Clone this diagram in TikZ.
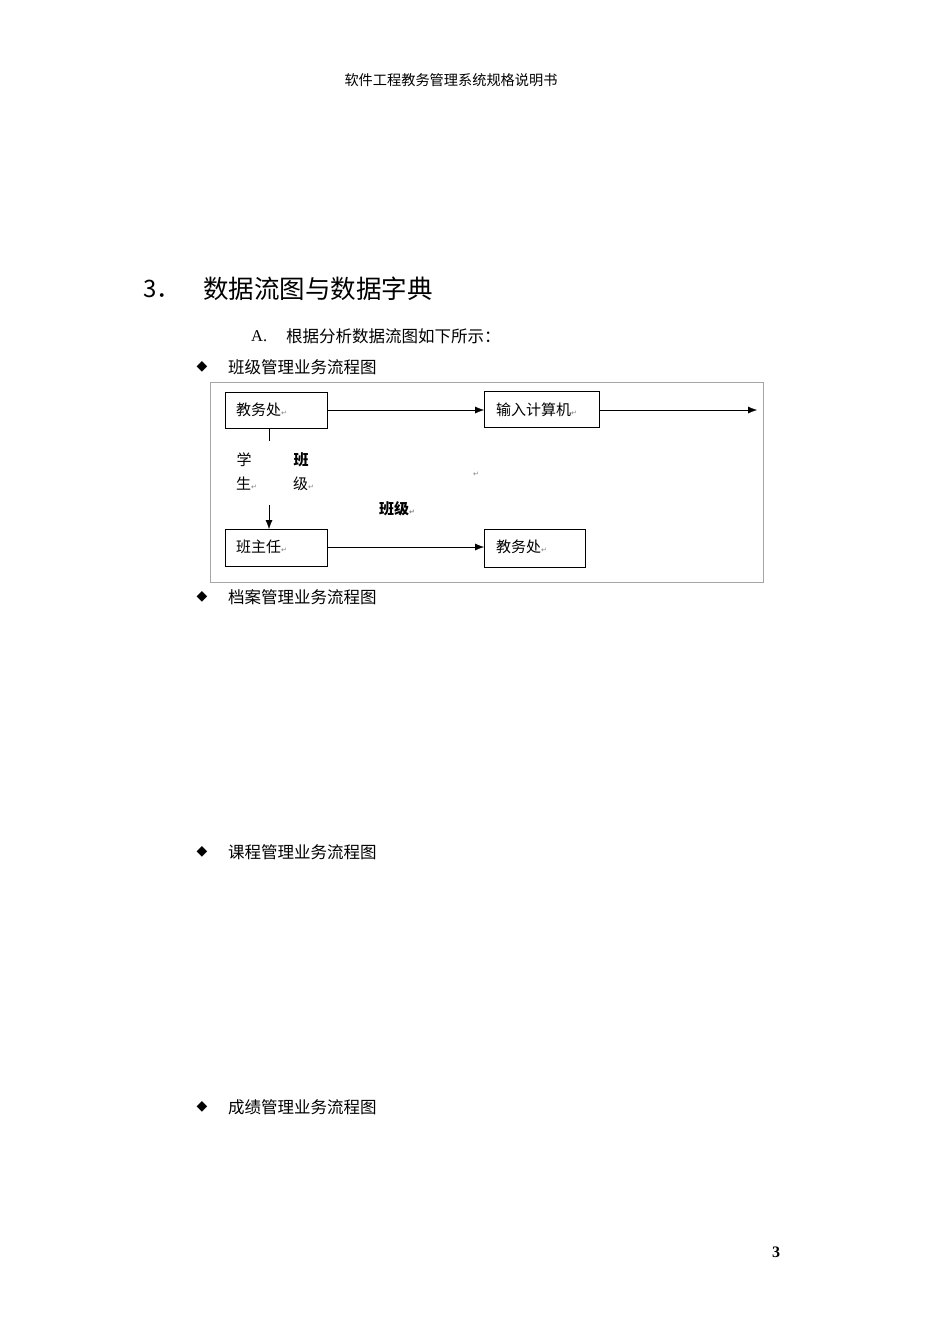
\documentclass[tikz,border=0pt]{standalone}
\usepackage{fontspec}
\usetikzlibrary{arrows.meta}
\newfontfamily\cjk{Noto Sans CJK SC}
\newfontfamily\dv{DejaVu Sans}
\setmainfont{Liberation Serif}
\begin{document}
\begin{tikzpicture}[x=1pt,y=-1pt,
  box/.style={draw,thick,minimum height=36pt,anchor=north west,inner sep=0pt},
  lbl/.style={font=\cjk\fontsize{15}{15}\selectfont,inner sep=0pt},
  bul/.style={font=\dv\fontsize{14}{14}\selectfont,inner sep=0pt},
  txt/.style={font=\cjk\fontsize{15}{15}\selectfont,inner sep=0pt,anchor=west},
  body/.style={font=\cjk\fontsize{16.5}{16.5}\selectfont,inner sep=0pt,anchor=west},
  arr/.style={-{Latex[length=9pt,width=7pt]},thin}]
\useasboundingbox (0,0) rectangle (950,1344);
\newcommand\rt{{\dv\fontsize{7}{7}\selectfont\color{gray}↵}}
\node[lbl,font=\cjk\fontsize{14.2}{14.2}\selectfont] (hdr) at (451,80) {软件工程教务管理系统规格说明书};
\node[body,font=\cjk\fontsize{24}{24}\selectfont] (num) at (143,289) {3．};
\node[body,font=\cjk\fontsize{25.5}{25.5}\selectfont] (ttl) at (203,289) {数据流图与数据字典};
\node[body] (a) at (251,336) {\rmfamily A.};
\node[body] (at) at (286,336) {根据分析数据流图如下所示：};
\foreach \yy/\t [count=\i] in {367/班级管理业务流程图,597/档案管理业务流程图,852/课程管理业务流程图,1107/成绩管理业务流程图}{
  \node[bul] (d\i) at (202,\yy) {◆};
  \node[body] (t\i) at (228,\yy) {\t};
}
\node[draw=gray!70,anchor=north west,minimum width=553pt,minimum height=200pt,inner sep=0pt] (frame) at (210,382) {};
\node[box,minimum width=102pt] (b1) at (225,392) {};
\node[txt] at (236,410) {教务处\rt};
\node[box,minimum width=115pt] (b2) at (484,391) {};
\node[txt] at (496,410) {输入计算机\rt};
\node[box,minimum width=102pt,minimum height=37pt] (b3) at (225,529) {};
\node[txt] at (236,547) {班主任\rt};
\node[box,minimum width=101pt,minimum height=38pt] (b4) at (484,529) {};
\node[txt] at (496,547) {教务处\rt};
\coordinate (e1) at (757,410);
\draw[arr] (b1.east|-0,410) -- (b2.west|-0,410);
\draw[arr] (b2.east|-0,410) -- (e1);
\draw[arr] (b3.east|-0,547) -- (b4.west|-0,547);
\coordinate (v1) at (269,441);
\coordinate (v2) at (269,505);
\draw (b1.south-|v1) -- (v1);
\draw[arr] (v2) -- (b3.north-|v2);
\node[lbl] at (244,460) {学};
\node[txt] at (236,484) {生\rt};
\node[lbl,font=\cjk\bfseries\fontsize{15}{15}\selectfont] at (301,460) {班};
\node[txt] at (293,484) {级\rt};
\node[txt,font=\cjk\bfseries\fontsize{15}{15}\selectfont] at (379,509) {班级\rt};
\node[inner sep=0pt] at (476,474) {\rt};
\node[font=\bfseries\fontsize{16}{16}\selectfont] (pg) at (776,1252) {3};
\end{tikzpicture}
\end{document}
